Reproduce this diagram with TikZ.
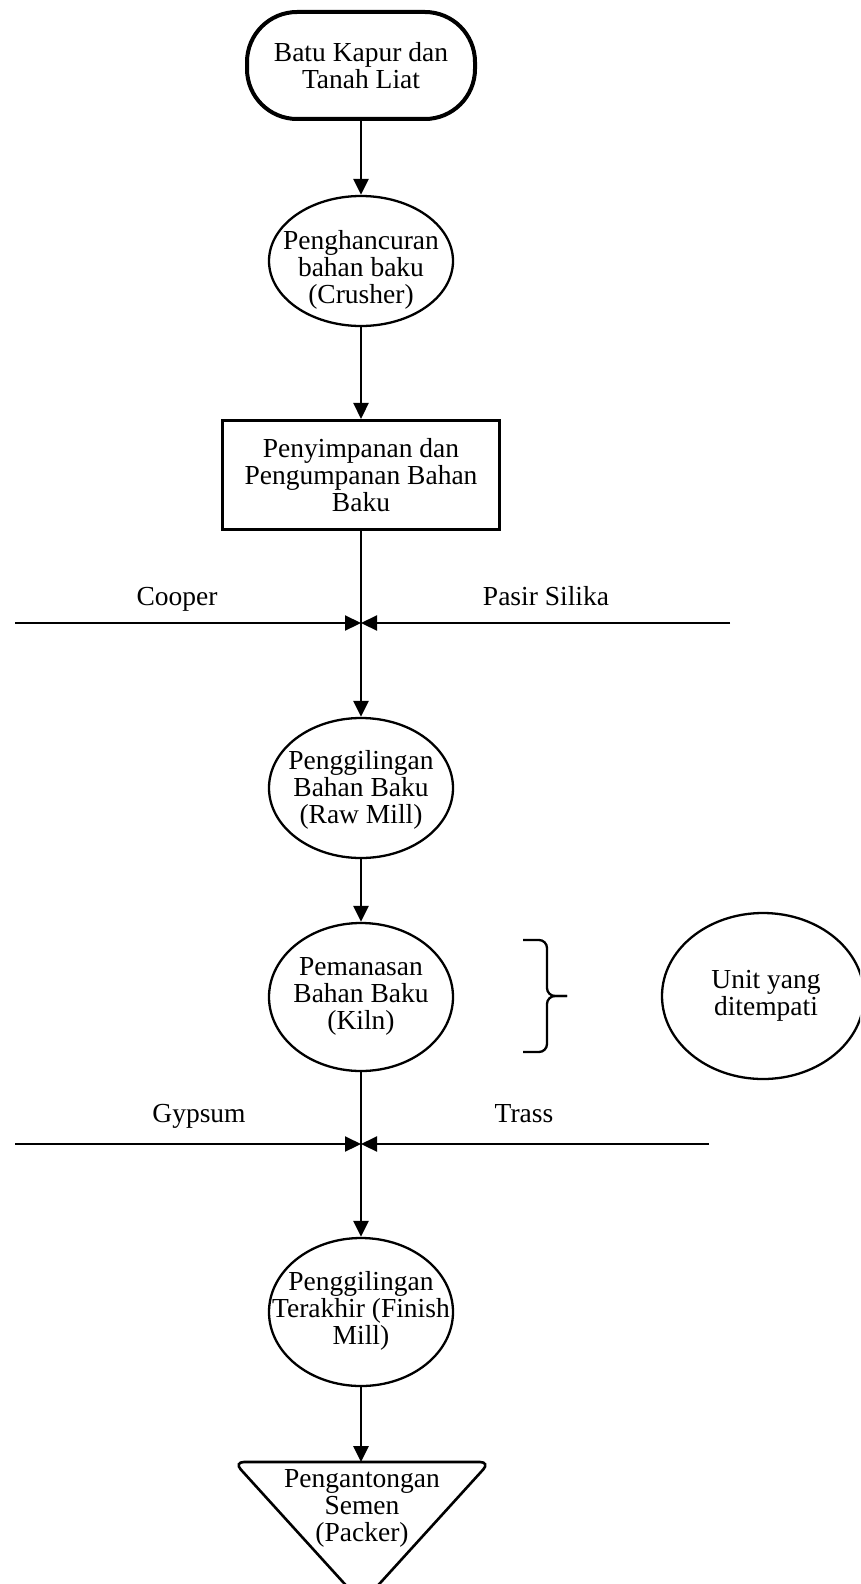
\documentclass[tikz,border=0pt]{standalone}
\usepackage{fontspec}
\setmainfont{Liberation Serif}
\usetikzlibrary{shapes.geometric,arrows.meta}

\begin{document}
\begin{tikzpicture}[x=1pt,y=-1pt,
	txt/.style={align=center,inner sep=0pt,font=\fontsize{27.5pt}{27pt}\selectfont},
	unit/.style={draw,ellipse,line width=2.3pt,minimum width=184pt,inner sep=0pt},
	flow/.style={line width=2.6pt,-{Triangle[length=16pt,width=15pt]}},
	feed/.style={line width=2.2pt,-{Triangle[length=16pt,width=15pt]}}]
	\clip (0,0) rectangle (860,1584);

	\node [draw,line width=4pt,rounded corners=50pt,minimum width=228pt,minimum height=107pt,txt] (bahan) at (361,65.5) {Batu Kapur dan\\Tanah Liat};

	\node [unit,minimum height=130pt] (crusher) at (361,261) {};
	\node [txt] (crushertxt) at (361,270) {Penghancuran\\bahan baku\\(Crusher)};

	\node [draw,line width=2.6pt,minimum width=277pt,minimum height=109.5pt,txt] (simpan) at (361,475) {Penyimpanan dan\\Pengumpanan Bahan\\Baku};

	\coordinate (cooper) at (15,623);
	\coordinate (pasir) at (730,623);
	\coordinate (mix1) at (361,623);
	\node [txt,anchor=base] (cooperlbl) at (177,605) {Cooper};
	\node [txt,anchor=base] (pasirlbl) at (546,605) {Pasir Silika};

	\node [unit,minimum height=140pt] (rawmill) at (361,788) {};
	\node [txt] (rawmilltxt) at (361,790) {Penggilingan\\Bahan Baku\\(Raw Mill)};

	\node [unit,minimum height=148pt] (kiln) at (361,997) {};
	\node [txt] (kilntxt) at (361,996) {Pemanasan\\Bahan Baku\\(Kiln)};

	\draw [line width=2.3pt,rounded corners=8pt] (523,940) -- (547,940) -- (547,996) -- (567,996);
	\draw [line width=2.3pt,rounded corners=8pt] (523,1052) -- (547,1052) -- (547,996) -- (567,996);

	\node [unit,minimum width=202pt,minimum height=166pt] (ditempati) at (763,996) {};
	\node [txt] (ditempatitxt) at (766,996) {Unit yang\\ditempati};

	\coordinate (gypsum) at (15,1144);
	\coordinate (trass) at (709,1144);
	\coordinate (mix2) at (361,1144);
	\node [txt,anchor=base] (gypsumlbl) at (199,1122) {Gypsum};
	\node [txt,anchor=base] (trasslbl) at (524,1122) {Trass};

	\node [unit,minimum height=148pt] (finish) at (361,1312) {};
	\node [txt] (finishtxt) at (361,1311) {Penggilingan\\Terakhir (Finish\\Mill)};

	\draw [line width=2.6pt,rounded corners=10pt] (234,1462) -- (490,1462) -- (362,1603) -- cycle;
	\coordinate (packtop) at (361,1462);
	\node [txt] (packer) at (362,1508) {Pengantongan\\Semen\\(Packer)};

	\draw [flow] (bahan.south) -- (crusher.north);
	\draw [flow] (crusher.south) -- (simpan.north);
	\draw [flow] (simpan.south) -- (rawmill.north);
	\draw [feed] (cooper) -- (mix1);
	\draw [feed] (pasir) -- (mix1);
	\draw [flow] (rawmill.south) -- (kiln.north);
	\draw [flow] (kiln.south) -- (finish.north);
	\draw [feed] (gypsum) -- (mix2);
	\draw [feed] (trass) -- (mix2);
	\draw [flow] (finish.south) -- (packtop);
\end{tikzpicture}
\end{document}
